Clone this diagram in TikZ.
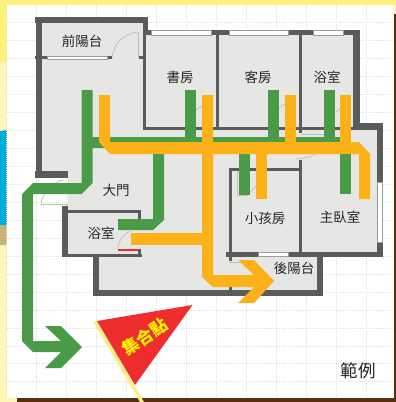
\documentclass[tikz,border=0pt]{standalone}
\usepackage{fontspec}
\setmainfont{Noto Sans CJK TC}
\definecolor{wallgray}{HTML}{585C5A}
\definecolor{floorgray}{HTML}{E6E6E4}
\definecolor{pathgreen}{HTML}{4A9B48}
\definecolor{pathorange}{HTML}{FDB118}
\definecolor{flagred}{HTML}{EE2E2E}
\definecolor{poleyellow}{HTML}{FFF08A}
\definecolor{edgeyellow}{HTML}{FFF27A}
\definecolor{paleyellow}{HTML}{FFF6B5}
\definecolor{seablue}{HTML}{00ADD8}
\definecolor{tan}{HTML}{C9B377}
\definecolor{framebrown}{HTML}{5A2D0C}
\definecolor{gridgray}{HTML}{E2E2E2}
\definecolor{doorgray}{HTML}{BDBFBE}
\definecolor{windowgray}{HTML}{9A9C9B}
\tikzset{
	wall/.style={fill=wallgray},
	window/.style={fill=white,draw=windowgray,line width=0.8pt},
	door/.style={draw=doorgray,line width=0.7pt},
	roomlabel/.style={inner sep=0pt,text=black!85,font=\fontsize{13.5}{13.5}\selectfont}
}
\begin{document}
\begin{tikzpicture}[x=1pt,y=-1pt]
	\useasboundingbox (0,0) rectangle (396,402);

	% page behind the sheet
	\fill[paleyellow] (0,0) rectangle (396,402);
	\fill[edgeyellow] (0,0) -- (396,0) -- (396,5) -- (7,5) -- (7,62) -- (0,60) -- cycle;
	\fill[framebrown] (394,14) rectangle (396,402);
	\fill[framebrown] (17,398) rectangle (396,402);
	\fill[seablue] (0,131) -- (7,130) -- (7,226) -- (0,225) -- cycle;
	\fill[tan] (0,225) -- (7,226) -- (7,245) -- (0,245) -- cycle;
	\fill[white] (7,5) rectangle (394,398);

	% grid
	\foreach \gx in {0,...,12}
		\draw[gridgray,densely dotted,line width=0.9pt] (6.7+30*\gx,5) -- (6.7+30*\gx,398);
	\foreach \gy in {0,...,20}
		\draw[gridgray,densely dotted,line width=0.9pt] (7,22.5+17.97*\gy) -- (394,22.5+17.97*\gy);

	% floor
	\fill[floorgray] (42,20) -- (146,20) -- (146,32) -- (356,32) -- (356,127) -- (380,127) -- (380,254) -- (320,254)
		-- (320,293) -- (96,293) -- (96,255) -- (65,255) -- (65,205) -- (68,205) -- (68,175) -- (42,175) -- cycle;

	% door swings and pale walls
	\draw[door] (112,58) .. controls (113,44) and (124,33) .. (138,32);
	\draw[door] (138,32) -- (138,58);
	\draw[door] (41,206) -- (41.7,200) .. controls (46,190) and (54,181) .. (64,180);
	\draw[door] (41,204.5) -- (68,204.5);
	\draw[door] (82,147) -- (93,136);
	\draw[door] (196,110) -- (204,105);
	\draw[door] (279,108) -- (286,103);
	\draw[door] (336,112) -- (341,108);
	\draw[door] (296,159) .. controls (303,159) and (310,157) .. (316,154);
	\draw[door] (301,134) -- (326,134);
	\draw[door] (237,170) -- (237,195) -- (248,195);
	\draw[door] (250,192) -- (256,186);
	\draw[door] (229,262) -- (240,262);
	\draw[door] (118,249) .. controls (118,241) and (124,233) .. (131,231);

	% outer walls
	\fill[wall] (35,17) rectangle (148,23);
	\fill[wall] (36,17) rectangle (42,172);
	\fill[wall] (35,171) rectangle (68,178);
	\fill[wall] (143,17) rectangle (148,35);
	\fill[wall] (143,30) rectangle (151,35);
	\fill[wall] (211,30) rectangle (229,35);
	\fill[wall] (288,30) rectangle (313,35);
	\fill[wall] (343,30) rectangle (360,35);
	\fill[wall] (353,30) rectangle (360,130);
	\fill[wall] (353,123) rectangle (383,130);
	\fill[wall] (377,123) rectangle (383,182);
	\fill[wall] (377,242) rectangle (383,257);
	\fill[wall] (226,252) rectangle (383,257);
	\fill[wall] (317,254) rectangle (323,296);
	\fill[wall] (93,290) rectangle (323,296);
	\fill[wall] (93,255) rectangle (99,296);

	% inner walls
	\fill[wall] (143,35) rectangle (146,129);
	\fill[wall] (143,127) rectangle (355,129.5);
	\fill[wall] (216,35) rectangle (219,129);
	\fill[wall] (299,35) rectangle (302,133);
	\fill[wall] (35,56) rectangle (47,59);
	\fill[wall] (107,56) rectangle (112,59);
	\fill[wall] (139,56) rectangle (146,59);
	\fill[wall] (229,168) rectangle (232,257);
	\fill[wall] (229,168) rectangle (301,171);
	\fill[wall] (299,160) rectangle (302,255);
	\fill[wall] (229,257) rectangle (232,261);
	\fill[wall] (229,287) rectangle (232,292);

	% bathroom walls
	\fill[wall] (62,206) rectangle (68,257);
	\fill[wall] (62,210) rectangle (141,213);
	\fill[wall] (138,210) rectangle (141,220);
	\fill[wall] (62,254) rectangle (142,257);
	\fill[wall] (138,249) rectangle (141,257);
	\fill[flagred] (118,249) rectangle (138,251);

	% windows
	\draw[window] (47.5,56.5) rectangle (107,59);
	\draw[window] (151,30.5) rectangle (211,35);
	\draw[window] (229,30.5) rectangle (288,35);
	\draw[window] (313,30.5) rectangle (343,35);
	\draw[window] (377.5,182) rectangle (382.5,242);
	\draw[window] (258,252.5) rectangle (288,256);

	% green route
	\fill[pathgreen] (81.5,90) -- (92.5,90) -- (92.5,137) -- (345,137) -- (345,148) -- (92.5,148) -- (92.5,183) -- (81.5,194)
		-- (33,194) -- (33,341) -- (61,341) -- (45,326) -- (61,326) -- (82,347) -- (61,368) -- (45,368) -- (61,352)
		-- (33,352) -- (22,341) -- (22,194) -- (33,183) -- (81.5,183) -- cycle;
	\fill[pathgreen] (185,90) rectangle (196,140);
	\fill[pathgreen] (268,90) rectangle (279,140);
	\fill[pathgreen] (324,90) rectangle (335,140);
	\fill[pathgreen] (153,145) -- (164,145) -- (164,220) -- (153,230) -- (118,230) -- (118,219) -- (153,219) -- cycle;
	\fill[pathgreen] (239,145) rectangle (250,195);
	\fill[pathgreen] (340,145) rectangle (351,194);

	% orange route
	\fill[pathorange] (99,95) -- (110,95) -- (110,142) -- (359,142) -- (370,154) -- (370,199) -- (359,199) -- (359,154)
		-- (110,154) -- (99,142) -- cycle;
	\fill[pathorange] (202,95) -- (213,95) -- (213,275) -- (254,275) -- (238,260) -- (254,260) -- (274,281) -- (254,303)
		-- (238,303) -- (254,287) -- (213,287) -- (202,277) -- cycle;
	\fill[pathorange] (285,95) rectangle (296,145);
	\fill[pathorange] (340,95) rectangle (351,145);
	\fill[pathorange] (255.5,150) rectangle (266.5,199);
	\fill[pathorange] (131,233) rectangle (205,245);

	% flag
	\fill[poleyellow] (93,322) -- (97,320) -- (144,402) -- (140,402) -- cycle;
	\fill[flagred] (97,321) -- (192.5,305) -- (135,385) -- cycle;
	\node[inner sep=0pt,rotate=35,text=yellow] (flaglabel) at (145,337) {\fontsize{17}{17}\selectfont\bfseries 集合點};

	% room labels
	\node[roomlabel] (frontbalcony) at (82,41) {前陽台};
	\node[roomlabel] (study) at (180,77) {書房};
	\node[roomlabel] (guestroom) at (258,77) {客房};
	\node[roomlabel] (bathone) at (327,77) {浴室};
	\node[roomlabel] (maindoor) at (116,190) {大門};
	\node[roomlabel] (bathtwo) at (101,233) {浴室};
	\node[roomlabel] (kidsroom) at (265,218) {小孩房};
	\node[roomlabel] (masterroom) at (340,217) {主臥室};
	\node[roomlabel] (backbalcony) at (294,268) {後陽台};
	\node[inner sep=0pt,text=black!85,font=\fontsize{17.5}{17.5}\selectfont] (legend) at (358,371) {範例};
\end{tikzpicture}
\end{document}
